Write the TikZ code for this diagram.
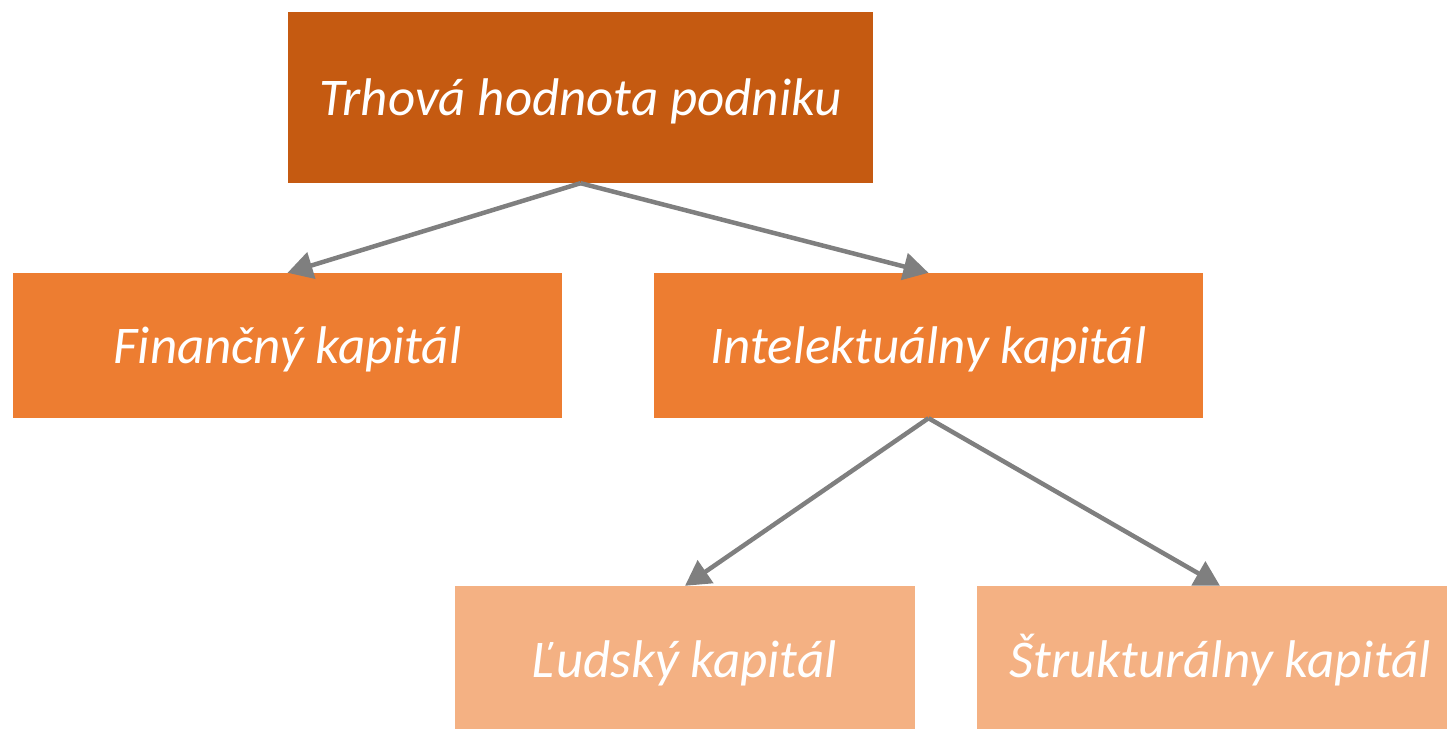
\documentclass[tikz,border=0pt]{standalone}
\usepackage{fontspec}
\setmainfont{Carlito}
\usetikzlibrary{arrows.meta}

\definecolor{tmava}{HTML}{C55A11}
\definecolor{stredna}{HTML}{ED7D31}
\definecolor{svetla}{HTML}{F4B183}
\definecolor{sipka}{HTML}{7F7F7F}

\begin{document}
\begin{tikzpicture}[x=1pt, y=-1pt]
		\tikzset{box/.style={rectangle, text=white, inner sep=0pt, text height=46pt, text depth=10pt, font=\fontsize{53}{58}\selectfont\itshape}};
		\tikzset{hrana/.style={draw=sipka, line width=4.5pt, -{Triangle[length=25pt, width=27pt]}}};

		\useasboundingbox (0, 0) rectangle (1447, 728);

		\node[box, fill=tmava, minimum width=585pt, minimum height=171pt] (trh) at (580.5, 97.5) {Trhová hodnota podniku};
		\node[box, fill=stredna, minimum width=549pt, minimum height=145pt] (fin) at (287.5, 345.5) {Finančný kapitál};
		\node[box, fill=stredna, minimum width=549pt, minimum height=145pt] (int) at (928.5, 345.5) {Intelektuálny kapitál};
		\node[box, fill=svetla, minimum width=460pt, minimum height=146pt] (lud) at (685, 659) {Ľudský kapitál};
		\node[box, fill=svetla, minimum width=486pt, minimum height=146pt] (str) at (1220, 659) {Štrukturálny kapitál};

		\draw[hrana] (trh.south) to (fin.north);
		\draw[hrana] (trh.south) to (int.north);

		\draw[hrana] (int.south) to (lud.north);
		\draw[hrana] (int.south) to (str.north);
	\end{tikzpicture}
\end{document}
